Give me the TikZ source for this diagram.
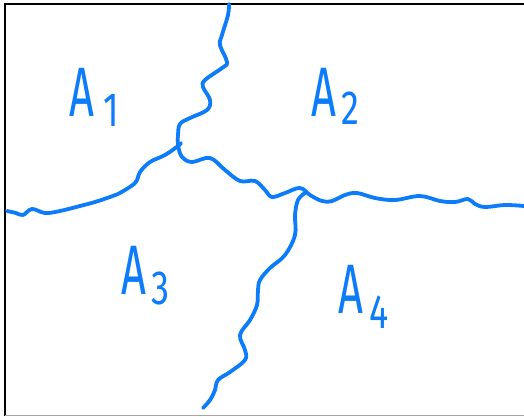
\documentclass[tikz,border=0pt]{standalone}
\usepackage{fontspec}
\setmainfont{Fira Sans}
\definecolor{pen}{RGB}{12,124,250}
\newcommand{\bigA}{\scalebox{0.62}[1]{\fontsize{70}{70}\selectfont A}}
\newcommand{\dig}[1]{\scalebox{0.75}[1]{\fontsize{48}{48}\selectfont #1}}
\begin{document}
\begin{tikzpicture}[x=1pt,y=-1pt,
  curve/.style={pen,line width=3.8pt,line cap=round,line join=round},
  lbl/.style={pen,inner sep=0pt,anchor=base west}]
\useasboundingbox (0,0) rectangle (524,416);
\fill[white] (0,0) rectangle (524,416);
% frame
\draw[black,line width=2pt] (5,416) -- (5,4) -- (524,4);
\draw[gray!70,line width=1pt] (5,415.5) -- (524,415.5);
% upper line continuing to the right
\draw[curve] plot[smooth,tension=0.6] coordinates {
 (229,4) (228,15) (222,35) (220,45) (227,62) (222,68) (205,80) (203,87)
 (210,100) (207,110) (190,118) (180,124) (178,135) (178,145) (182,157)
 (192,162) (210,158) (225,170) (240,181) (255,181) (265,190) (272,197)
 (285,193) (300,188) (310,195) (322,201) (332,201) (345,195) (357,193)
 (375,198) (395,200) (420,196) (440,201) (455,202) (468,199) (475,204)
 (485,207) (505,205) (524,206)};
% left line
\draw[curve] plot[smooth,tension=0.6] coordinates {
 (7,211) (16,213) (23,215) (32,209) (45,213) (60,211) (80,206) (95,202)
 (110,197) (118,194) (135,183) (140,172) (150,162) (165,155) (178,146) (181,143)};
% lower line
\draw[curve] plot[smooth,tension=0.6] coordinates {
 (305,193) (298,200) (295,215) (295,235) (285,255) (270,268) (260,280)
 (258,290) (257,305) (250,320) (240,335) (245,350) (245,360) (230,372)
 (218,380) (215,390) (210,400) (203,408)};
% labels
\node[lbl] (a1) at (69,116) {\bigA\kern9pt\raisebox{-10pt}{\dig{1}}};
\node[lbl] (a2) at (311,116) {\bigA\kern5pt\raisebox{-8pt}{\dig{2}}};
\node[lbl] (a3) at (121,294) {\bigA\kern5pt\raisebox{-10pt}{\dig{3}}};
\node[lbl] (a4) at (338,313) {\bigA\kern6pt\raisebox{-15pt}{\dig{4}}};
\end{tikzpicture}
\end{document}
